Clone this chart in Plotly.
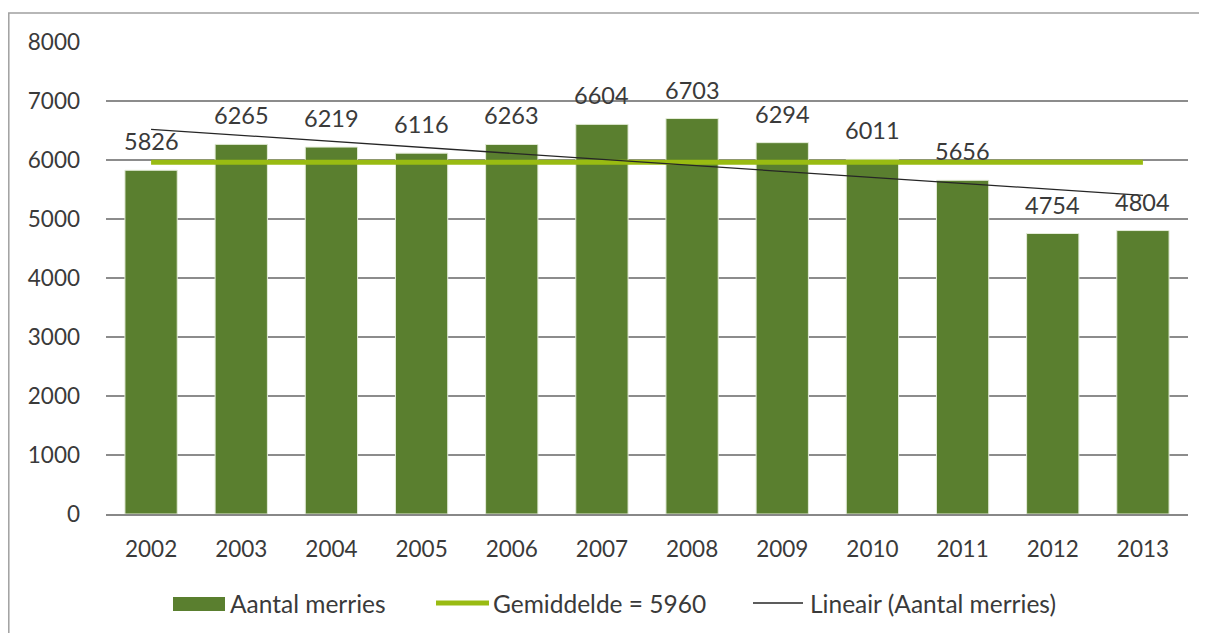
import numpy as np
import plotly.graph_objects as go

years = ["2002", "2003", "2004", "2005", "2006", "2007", "2008", "2009", "2010", "2011", "2012", "2013"]
merries = [5826, 6265, 6219, 6116, 6263, 6604, 6703, 6294, 6011, 5656, 4754, 4804]
y_ticks = [0, 1000, 2000, 3000, 4000, 5000, 6000, 7000, 8000]

avg = round(sum(merries) / len(merries))
xi = np.arange(len(merries))
slope, intercept = np.polyfit(xi, merries, 1)
trend = [float(v) for v in slope * xi + intercept]

FONT = "Lato"
TXT = "#3A3A3A"
BAR = "#5A7F2F"
AVG = "#99BB12"
TREND = "#262626"

OFF = 8  # page body margin
W, H = 1207 - OFF, 633 - OFF
L, T = 106 - OFF, 42 - OFF
R, B = W - (1188 - OFF), H - (514 - OFF)
PW, PH = W - L - R, H - T - B


def px(x):  # screenshot pixel -> paper
    return (x - OFF - L) / PW


def py(y):
    return (H - B - (y - OFF)) / PH


fig = go.Figure()
fig.add_trace(go.Bar(
    x=years, y=merries, name="Aantal merries",
    marker=dict(color=BAR, line=dict(color="#E4ECD8", width=1)),
))
fig.add_trace(go.Scatter(
    x=years, y=[avg] * len(years), mode="lines",
    name=f"Gemiddelde = {avg}",
    line=dict(color=AVG, width=5),
))
fig.add_trace(go.Scatter(
    x=[years[0], years[-1]], y=[trend[0], trend[-1]], mode="lines",
    name="Lineair (Aantal merries)",
    line=dict(color=TREND, width=1.3),
))

# data labels (category index positions)
for i, v in enumerate(merries):
    fig.add_annotation(x=i, y=v, xref="x", yref="y", text=str(v), showarrow=False,
                       yanchor="bottom", yshift=13,
                       font=dict(family=FONT, size=23.5, color=TXT))

# outer chart border
fig.add_shape(type="rect", xref="paper", yref="paper",
              x0=px(8.8), x1=px(1215), y0=py(640), y1=py(13),
              line=dict(color="#A0A0A0", width=1.5), fillcolor="rgba(0,0,0,0)")

# legend drawn manually to match wide swatches
ly = 603
fig.add_shape(type="rect", xref="paper", yref="paper",
              x0=px(173), x1=px(225), y0=py(611), y1=py(597),
              line=dict(width=0), fillcolor=BAR)
fig.add_shape(type="line", xref="paper", yref="paper",
              x0=px(436), x1=px(489), y0=py(ly), y1=py(ly),
              line=dict(color=AVG, width=5))
fig.add_shape(type="line", xref="paper", yref="paper",
              x0=px(753), x1=px(803), y0=py(ly), y1=py(ly),
              line=dict(color=TREND, width=1.3))
for x0, label in [(228, "Aantal merries"), (491, f"Gemiddelde = {avg}"),
                  (808, "Lineair (Aantal merries)")]:
    fig.add_annotation(xref="paper", yref="paper", x=px(x0), y=py(ly),
                       xanchor="left", yanchor="middle", showarrow=False,
                       text=label, font=dict(family=FONT, size=24.5, color=TXT))

fig.update_layout(
    width=W, height=H,
    margin=dict(l=L, r=R, t=T, b=B, autoexpand=False),
    paper_bgcolor="white", plot_bgcolor="white",
    bargap=0.42,
    font=dict(family=FONT, size=22.5, color=TXT),
    showlegend=False,
    xaxis=dict(type="category", range=[-0.5, len(years) - 0.5], showgrid=False,
               showline=True, linecolor="#888888", linewidth=2, automargin=False,
               ticks="", ticklabelstandoff=14, tickfont=dict(family=FONT, size=22.5, color=TXT)),
    yaxis=dict(range=[0, 8000], tickvals=y_ticks, showgrid=True, gridcolor="#8C8C8C",
               gridwidth=1.5, zeroline=False, showline=False, ticks="", automargin=False,
               ticklabelstandoff=25, tickfont=dict(family=FONT, size=22.5, color=TXT)),
)

fig.write_html("out.html")
